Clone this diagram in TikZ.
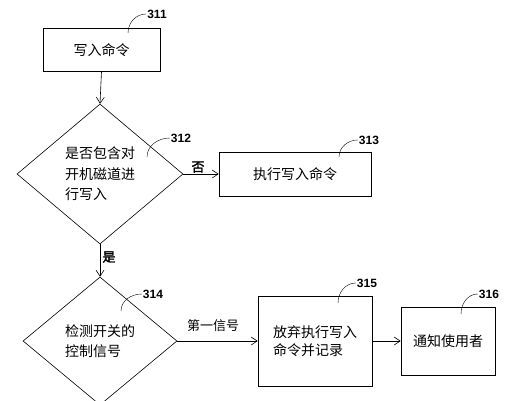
\documentclass[tikz,border=0pt]{standalone}
\usepackage{fontspec}
\newfontfamily\cjk{Noto Sans CJK SC}
\newfontfamily\cjkb[AutoFakeBold=2]{Noto Sans CJK SC}
\newfontfamily\numfont{Liberation Sans}
\usetikzlibrary{arrows.meta,positioning,shapes.geometric}

\begin{document}
\begin{tikzpicture}[x=1pt, y=1pt,
    box/.style={rectangle, draw=black, line width=0.6pt, align=center, font=\cjk\fontsize{14}{19}\selectfont},
    decision/.style={diamond, draw=black, line width=0.6pt, align=left, inner sep=0pt, font=\cjk\fontsize{14}{20.5}\selectfont},
    refnum/.style={font=\numfont\bfseries\fontsize{12}{12}\selectfont, inner sep=1pt},
    branch/.style={font=\cjkb\bfseries\fontsize{13}{13}\selectfont, inner sep=1pt},
    flow/.style={-{Straight Barb[length=6pt, width=8pt]}, line width=0.6pt}
  ]
    \useasboundingbox (0,0) rectangle (513,-400);

    % Left column
    \node[box, minimum width=117, minimum height=43] (write) at (101.5,-50) {写入命令};
    \node[decision, minimum width=166, minimum height=140] (boot) at (100,-174)
      {是否包含对\\开机磁道进\\行写入};
    \node[decision, minimum width=154, minimum height=128] (switch) at (100,-341)
      {检测开关的\\控制信号};

    % Right side
    \node[box, minimum width=152, minimum height=44] (exec) at (295,-174) {执行写入命令};
    \node[box, minimum width=114, minimum height=90, align=left,
      font=\cjk\fontsize{14}{18}\selectfont] (reject) at (315,-341)
      {放弃执行写入\\命令并记录};
    \node[box, minimum width=94, minimum height=68] (notify) at (448,-341) {通知使用者};

    \draw[flow] (write.south)  -- (boot.north);
    \draw[flow] (boot.east)    -- (exec.west);
    \draw[flow] (boot.south)   -- (switch.north);
    \draw[flow] (switch.east)  -- (reject.west);
    \draw[flow] (reject.east)  -- (notify.west);

    % Branch labels
    \node[branch] (no)  at (198,-167) {否};
    \node[branch] (yes) at (109,-257) {是};
    \node[branch, font=\cjk\fontsize{13}{13}\selectfont] (sig) at (213,-326) {第一信号};

    % Reference numbers
    \node[refnum] (r311) at (157,-14)  {311};
    \node[refnum] (r312) at (181,-138) {312};
    \node[refnum] (r313) at (369,-140) {313};
    \node[refnum] (r314) at (153,-294) {314};
    \node[refnum] (r315) at (367,-283) {315};
    \node[refnum] (r316) at (489,-294) {316};

    \coordinate (p311) at (128,-33);
    \coordinate (p312) at (147,-157);
    \coordinate (p313) at (339,-157);
    \coordinate (p314) at (121,-311);
    \coordinate (p315) at (338,-303);
    \coordinate (p316) at (461,-314);

    \draw (p311) to[out=90, in=180] (r311.west);
    \draw (p312) to[out=90, in=180] (r312.west);
    \draw (p313) to[out=90, in=180] (r313.west);
    \draw (p314) to[out=90, in=180] (r314.west);
    \draw (p315) to[out=90, in=180] (r315.west);
    \draw (p316) to[out=90, in=180] (r316.west);
  \end{tikzpicture}
\end{document}
